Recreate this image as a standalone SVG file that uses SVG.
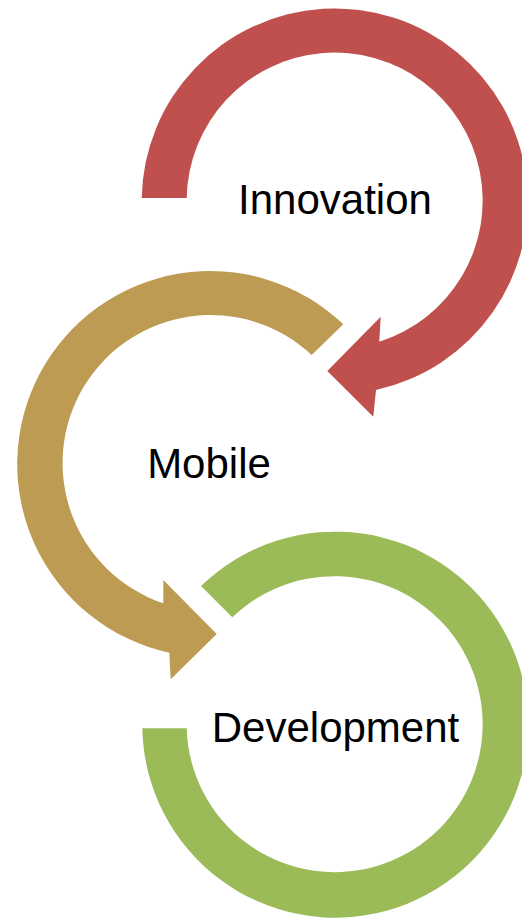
<svg xmlns="http://www.w3.org/2000/svg" width="522" height="919" viewBox="0 0 522 919">
<style>
.lbl{font-family:"Liberation Sans","Noto Sans",Arial,sans-serif;font-size:42px;fill:#000;text-anchor:middle}
.red{fill:#C0504D}
.gold{fill:#BE9B53}
.green{fill:#9BBB59}
</style>
<rect width="522" height="919" fill="#fff"/>
<g id="connectors">
</g>
<g id="innovation">
<path class="red" d="M141.7 198 A193 193 0 1 1 376 390 L373.3 416.7 L327.3 371 L380.7 316.7 L379.3 341.7 A148 148 0 1 0 186.7 198 Z"/>
<text class="lbl" x="335" y="214">Innovation</text>
</g>
<g id="mobile">
<path class="gold" d="M343.3 324.3 A193 193 0 1 0 169.3 652.7 L170.7 679.3 L216.7 634 L163.3 580 L163.3 603.3 A148 148 0 1 1 311.7 355 Z"/>
<text class="lbl" x="209" y="478">Mobile</text>
</g>
<g id="development">
<path class="green" d="M201 586 A193 193 0 1 1 142.3 728.3 L186.7 728.3 A148 148 0 1 0 232.3 617.3 Z"/>
<text class="lbl" x="335.5" y="742">Development</text>
</g>
</svg>
